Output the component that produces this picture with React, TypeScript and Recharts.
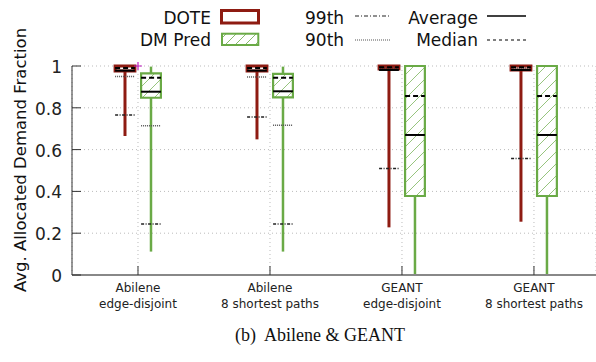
import {
  ComposedChart, XAxis, YAxis, CartesianGrid, ReferenceArea, ReferenceLine, ReferenceDot
} from 'recharts';

const FONT = '"DejaVu Sans", Verdana, sans-serif';
const RED = '#8e1b12';
const GREEN = '#6aaa46';

// categories (two-line tick labels) and their x positions
const CATEGORIES = [
  ['Abilene', 'edge-disjoint'],
  ['Abilene', '8 shortest paths'],
  ['GEANT', 'edge-disjoint'],
  ['GEANT', '8 shortest paths'],
];
const CATEGORY_POS = [0.5, 1.5, 2.5, 3.5];
const Y_TICKS = [0, 0.2, 0.4, 0.6, 0.8, 1];

// DOTE
const DOTE_MIN = [0.665, 0.649, 0.228, 0.255];
const DOTE_Q1 = [0.976, 0.976, 0.986, 0.981];
const DOTE_Q3 = [1, 1, 1, 1];
const DOTE_MAX = [1, 1, 1, 1];
const DOTE_MEDIAN = [0.99, 0.99, 0.994, 0.994];
const DOTE_AVG = [0.978, 0.978, 0.981, 0.981];
const DOTE_P90 = [0.95, 0.947, 0.99, 0.99];
const DOTE_P99 = [0.765, 0.756, 0.51, 0.557];

// DM Pred
const DM_MIN = [0.112, 0.112, 0, 0];
const DM_Q1 = [0.848, 0.85, 0.378, 0.378];
const DM_Q3 = [0.965, 0.962, 1, 1];
const DM_MAX = [0.997, 0.997, 1, 1];
const DM_MEDIAN = [0.944, 0.944, 0.856, 0.856];
const DM_AVG = [0.877, 0.879, 0.67, 0.67];
const DM_P90 = [0.714, 0.716, 0, 0];
const DM_P99 = [0.244, 0.244, 0, 0];

const OUTLIERS = [{ x: 0.5, y: 1 }];

const OFFSET = 0.0985;
const HALF = 0.075;

type Series = {
  key: string; shift: number; color: string; whisker: number; boxStroke: number; fill: string;
  min: number[]; q1: number[]; q3: number[]; max: number[];
  median: number[]; avg: number[]; p90: number[]; p99: number[];
};

const SERIES: Series[] = [
  { key: 'dote', shift: -OFFSET, color: RED, whisker: 3, boxStroke: 3, fill: '#fff',
    min: DOTE_MIN, q1: DOTE_Q1, q3: DOTE_Q3, max: DOTE_MAX,
    median: DOTE_MEDIAN, avg: DOTE_AVG, p90: DOTE_P90, p99: DOTE_P99 },
  { key: 'dm', shift: OFFSET, color: GREEN, whisker: 2.5, boxStroke: 2.2, fill: 'url(#hatch)',
    min: DM_MIN, q1: DM_Q1, q3: DM_Q3, max: DM_MAX,
    median: DM_MEDIAN, avg: DM_AVG, p90: DM_P90, p99: DM_P99 },
];

const MARKERS = [
  { field: 'p99' as const, dash: '3 1.5 1 1.5', width: 1.5, color: '#222' },
  { field: 'p90' as const, dash: '1 1', width: 1.5, color: '#555' },
  { field: 'median' as const, dash: '5 3', width: 2, color: '#000' },
  { field: 'avg' as const, dash: undefined, width: 2, color: '#000' },
];

function XTick(props: any) {
  const { x, y, payload } = props;
  const idx = CATEGORY_POS.indexOf(payload.value);
  const [a, b] = CATEGORIES[idx] ?? ['', ''];
  return (
    <g>
      <line x1={x} x2={x} y1={y} y2={y - 9} stroke="#333" strokeWidth={1} />
      <text x={x} y={y + 17} textAnchor="middle" fontSize={12} fontFamily={FONT} fill="#222">{a}</text>
      <text x={x} y={y + 32.5} textAnchor="middle" fontSize={12} fontFamily={FONT} fill="#222">{b}</text>
    </g>
  );
}

function YTick(props: any) {
  const { x, y, payload } = props;
  return (
    <g>
      <line x1={x} x2={x + 9} y1={y} y2={y} stroke="#333" strokeWidth={1} />
      <text x={x - 10} y={y + 7} textAnchor="end" fontSize={17} fontFamily={FONT} fill="#222">
        {String(payload.value)}
      </text>
    </g>
  );
}

function plus(props: any) {
  const { cx, cy } = props;
  return <path d={`M${cx - 4},${cy}H${cx + 4}M${cx},${cy - 4}V${cy + 4}`} stroke="#c020c0" strokeWidth={1.2} fill="none" />;
}

function Legend() {
  const t = { fontFamily: FONT, fontSize: 17, fill: '#111' };
  return (
    <svg width={596} height={60} style={{ position: 'absolute', left: 0, top: 0 }}>
      <text x={211} y={24} textAnchor="end" {...t}>DOTE</text>
      <rect x={221.5} y={10.5} width={37} height={12.5} fill="#fff" stroke={RED} strokeWidth={3} />
      <text x={211} y={46} textAnchor="end" {...t}>DM Pred</text>
      <rect x={222} y={33.7} width={36.3} height={11.3} fill="url(#hatchLegend)" stroke={GREEN} strokeWidth={2} />
      <defs>
        <pattern id="hatchLegend" width={10} height={10} patternUnits="userSpaceOnUse">
          <rect width={10} height={10} fill="#fff" />
          <line x1={0} y1={10} x2={10} y2={0} stroke={GREEN} strokeWidth={0.8} />
        </pattern>
      </defs>
      <text x={305} y={24} {...t}>99th</text>
      <line x1={355} x2={391} y1={16} y2={16} stroke="#222" strokeWidth={1.2} strokeDasharray="4 2 1 2" />
      <text x={305} y={46} {...t}>90th</text>
      <line x1={355} x2={391} y1={40} y2={40} stroke="#555" strokeWidth={1.2} strokeDasharray="1 1" />
      <text x={478} y={24} textAnchor="end" {...t}>Average</text>
      <line x1={487} x2={526} y1={16} y2={16} stroke="#000" strokeWidth={1.3} />
      <text x={478} y={46} textAnchor="end" {...t}>Median</text>
      <line x1={487} x2={526} y1={40} y2={40} stroke="#000" strokeWidth={1.2} strokeDasharray="3 3" />
    </svg>
  );
}

export default function App() {
  return (
    <div style={{ position: 'relative', width: 596, height: 362, background: '#fff' }}>
      <style>{'body{margin:0}'}</style>
      <ComposedChart width={596} height={362} margin={{ top: 66, right: 0, bottom: 0, left: 0 }}>
        <defs>
          <pattern id="hatch" width={12} height={12} patternUnits="userSpaceOnUse">
            <rect width={12} height={12} fill="#fff" />
            <line x1={0} y1={12} x2={12} y2={0} stroke={GREEN} strokeWidth={0.7} />
          </pattern>
        </defs>
        <CartesianGrid stroke="#bbb" strokeDasharray="1 3" />
        <XAxis
          type="number" dataKey="x" domain={[0, 3.97]} ticks={CATEGORY_POS} allowDataOverflow
          height={87} tickSize={0} tickMargin={0} tickLine={false}
          axisLine={{ stroke: '#888', strokeWidth: 2 }} tick={(p: any) => <XTick {...p} />}
        />
        <YAxis
          type="number" dataKey="y" domain={[0, 1]} ticks={Y_TICKS} allowDataOverflow
          width={72} tickSize={0} tickMargin={0} tickLine={false}
          axisLine={{ stroke: '#333', strokeWidth: 1 }} tick={(p: any) => <YTick {...p} />}
        />
        {SERIES.map((s) =>
          CATEGORY_POS.map((c, i) => {
            const cx = c + s.shift;
            return [
              <ReferenceLine key={`${s.key}-wl-${i}`} segment={[{ x: cx, y: s.min[i] }, { x: cx, y: s.q1[i] }]}
                stroke={s.color} strokeWidth={s.whisker} />,
              s.max[i] > s.q3[i] ? (
                <ReferenceLine key={`${s.key}-wh-${i}`} segment={[{ x: cx, y: s.q3[i] }, { x: cx, y: s.max[i] }]}
                  stroke={s.color} strokeWidth={s.whisker} />
              ) : null,
              <ReferenceArea key={`${s.key}-box-${i}`} x1={cx - HALF} x2={cx + HALF} y1={s.q1[i]} y2={s.q3[i]}
                fill={s.fill} fillOpacity={1} stroke={s.color} strokeWidth={s.boxStroke} />,
            ];
          })
        )}
        {SERIES.map((s) =>
          CATEGORY_POS.map((c, i) =>
            MARKERS.map((m) => {
              const cx = c + s.shift;
              const v = s[m.field][i];
              return (
                <ReferenceLine key={`${s.key}-${m.field}-${i}`}
                  segment={[{ x: cx - HALF, y: v }, { x: cx + HALF, y: v }]}
                  stroke={m.color} strokeWidth={m.width} strokeDasharray={m.dash} />
              );
            })
          )
        )}
        {OUTLIERS.map((o, i) => (
          <ReferenceDot key={`out-${i}`} x={o.x} y={o.y} r={4} ifOverflow="visible" shape={plus} />
        ))}
      </ComposedChart>
      <Legend />
      <svg width={40} height={362} style={{ position: 'absolute', left: 0, top: 0 }}>
        <text transform="translate(26,160) rotate(-90)" textAnchor="middle" fontSize={16.5} fontFamily={FONT} fill="#111">
          Avg. Allocated Demand Fraction
        </text>
      </svg>
      <div style={{
        position: 'absolute', left: 0, width: 596, top: 325, textAlign: 'center', whiteSpace: 'pre',
        boxSizing: 'border-box', fontFamily: '"Liberation Serif", "Times New Roman", serif', fontSize: 18,
        color: '#111', paddingLeft: 44
      }}>
        {'(b)  Abilene & GEANT'}
      </div>
    </div>
  );
}
